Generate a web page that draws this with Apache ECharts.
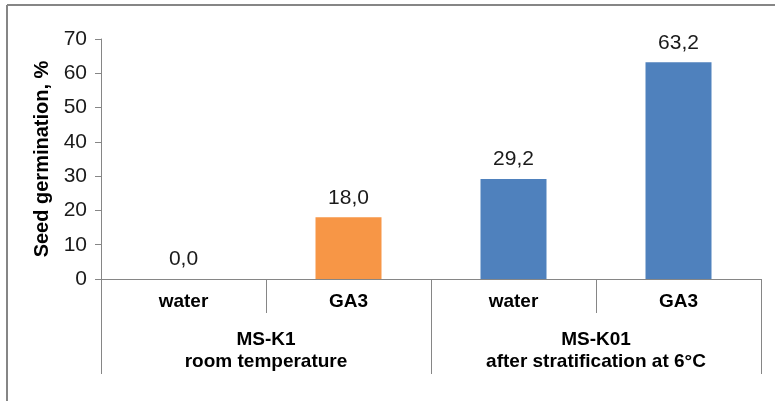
<!DOCTYPE html>
<html><head><meta charset="utf-8">
<script src="https://cdn.jsdelivr.net/npm/echarts@6/dist/echarts.min.js"></script>
<style>html,body{margin:0;padding:0;background:#fff}#c{width:775px;height:401px}</style>
</head><body><div id="c"></div>
<script>
const categories = ['water', 'GA3', 'water', 'GA3'];
const groups = ['MS-K1\nroom temperature', 'MS-K01\nafter stratification at 6°C'];
const values = [0.0, 18.0, 29.2, 63.2];
const barColors = ['#F79646', '#F79646', '#4F81BD', '#4F81BD'];
const yTicks = [0, 10, 20, 30, 40, 50, 60, 70];
const yTitle = 'Seed germination, %';

const font = '"Liberation Sans", Arial, sans-serif';
const axisColor = '#868686';
const chart = echarts.init(document.getElementById('c'));
chart.setOption({
  animation: false,
  grid: { left: 101, right: 14, top: 39, bottom: 122, containLabel: false },
  graphic: [
    { type: 'line', shape: { x1: 7, y1: 5, x2: 7, y2: 401 }, style: { stroke: axisColor, lineWidth: 2 } },
    { type: 'line', shape: { x1: 7, y1: 5, x2: 775, y2: 5 }, style: { stroke: axisColor, lineWidth: 2 } }
  ],
  xAxis: [
    {
      type: 'category', data: categories, position: 'bottom',
      axisLine: { show: true, lineStyle: { color: axisColor, width: 1 } },
      axisTick: { show: true, length: 34, lineStyle: { color: axisColor } },
      axisLabel: { margin: 13, fontFamily: font, fontSize: 19, fontWeight: 'bold', color: '#000' }
    },
    {
      type: 'category', data: groups, position: 'bottom',
      axisLine: { show: false },
      axisTick: { show: true, length: 95, lineStyle: { color: axisColor } },
      axisLabel: { margin: 50, fontFamily: font, fontSize: 19, fontWeight: 'bold', color: '#000', lineHeight: 22 }
    }
  ],
  yAxis: {
    type: 'value', min: yTicks[0], max: yTicks[yTicks.length - 1], interval: 10,
    name: yTitle, nameLocation: 'middle', nameRotate: 90, nameGap: 46,
    nameTextStyle: { fontFamily: font, fontSize: 20, fontWeight: 'bold', color: '#000' },
    axisLine: { show: true, lineStyle: { color: axisColor, width: 1 } },
    axisTick: { show: true, length: 6, lineStyle: { color: axisColor } },
    splitLine: { show: false },
    axisLabel: { margin: 14, fontFamily: font, fontSize: 21, color: '#1a1a1a' }
  },
  series: [{
    type: 'bar', xAxisIndex: 0, barWidth: '40%',
    data: values.map((v, i) => ({ value: v, itemStyle: { color: barColors[i] } })),
    label: {
      show: true, position: 'top', distance: 9,
      fontFamily: font, fontSize: 21, color: '#1a1a1a',
      formatter: p => p.value.toFixed(1).replace('.', ',')
    }
  }]
});
</script></body></html>
